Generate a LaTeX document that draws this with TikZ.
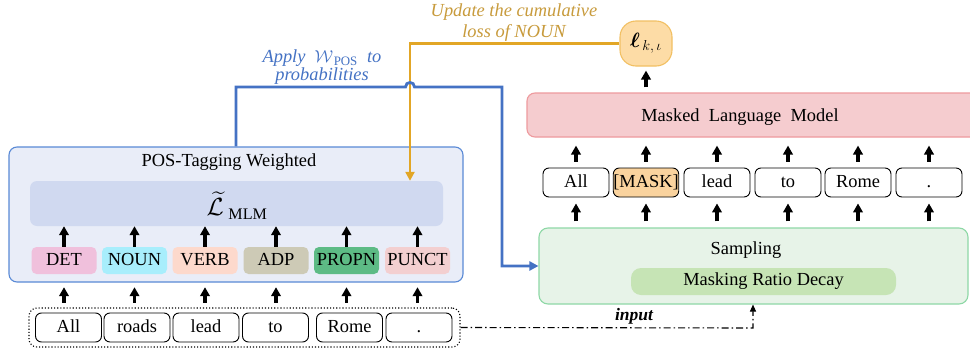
\documentclass[tikz,border=0pt]{standalone}
\usepackage{amsmath,amssymb}
\usepackage{fontspec}
\setmainfont{Liberation Serif}
\usetikzlibrary{arrows.meta,calc}
\definecolor{posfill}{HTML}{E9EDF8}
\definecolor{posdraw}{HTML}{5A8AD6}
\definecolor{lfill}{HTML}{D0D9F0}
\definecolor{cdet}{HTML}{F0C0DC}
\definecolor{cnoun}{HTML}{A8EEFC}
\definecolor{cverb}{HTML}{FDD9CC}
\definecolor{cadp}{HTML}{CDCAB6}
\definecolor{cpropn}{HTML}{5DBB85}
\definecolor{cpunct}{HTML}{F3CFD0}
\definecolor{blueln}{HTML}{4472C4}
\definecolor{orangeln}{HTML}{E2A626}
\definecolor{orangetxt}{HTML}{C89B3C}
\definecolor{mlmfill}{HTML}{F5CCCF}
\definecolor{mlmdraw}{HTML}{EE9A9E}
\definecolor{maskfill}{HTML}{FAD39E}
\definecolor{ellfill}{HTML}{FDDCA6}
\definecolor{elldraw}{HTML}{F2C063}
\definecolor{sampfill}{HTML}{E7F3E8}
\definecolor{sampdraw}{HTML}{8ED8A6}
\definecolor{mrdfill}{HTML}{C6E4B5}
\begin{document}
\begin{tikzpicture}[x=1pt,y=-1pt,
  font=\fontsize{18.4}{21}\selectfont,
  tokbox/.style={draw=black, line width=0.9pt, rounded corners=6pt, minimum width=66pt, minimum height=29pt, inner sep=0pt, text height=12.5pt, text depth=3.5pt},
  tagbox/.style={rounded corners=5pt, minimum width=65pt, minimum height=27pt, inner sep=0pt, text height=12.5pt, text depth=3.5pt},
  uparrow/.style={line width=3.5pt, -{Triangle[width=9.5pt,length=9pt]}},
  blueline/.style={draw=blueln, line width=2.8pt},
  orangeline/.style={draw=orangeln, line width=2.6pt}
]
\clip (0,0) rectangle (970,351);
\fill[white] (0,0) rectangle (970,351);

% ---------- left block ----------
\node[draw=posdraw, fill=posfill, line width=1.1pt, rounded corners=8pt, minimum width=454pt, minimum height=135pt] (pos) at (236,214.5) {};
\node (postitle) at (229,162) {POS-Tagging Weighted};
\node[fill=lfill, rounded corners=7pt, minimum width=413pt, minimum height=45pt, inner sep=0pt] (lmlm) at (236.5,203.5) {};
\node[font=\fontsize{23}{26}\selectfont] (lmlmtext) at (237,206) {$\widetilde{\mathcal{L}}_{\;\mathrm{MLM}}$};

\node[tagbox, fill=cdet]   (det)   at (64,260.5)   {DET};
\node[tagbox, fill=cnoun]  (noun)  at (134.5,260.5) {NOUN};
\node[tagbox, fill=cverb]  (verb)  at (205,260.5)  {VERB};
\node[tagbox, fill=cadp]   (adp)   at (276,260.5)  {ADP};
\node[tagbox, fill=cpropn] (propn) at (346.5,260.5) {PROPN};
\node[tagbox, fill=cpunct] (punct) at (417.5,260.5) {PUNCT};

\node[draw=black, dotted, line width=1.1pt, rounded corners=8pt, minimum width=431pt, minimum height=39pt] (toks) at (244.5,327.5) {};
\node[tokbox] (lt1) at (68.5,327.5) {All};
\node[tokbox] (lt2) at (137,327.5) {roads};
\node[tokbox] (lt3) at (206,327.5) {lead};
\node[tokbox] (lt4) at (275.5,327.5) {to};
\node[tokbox] (lt5) at (349.5,327.5) {Rome};
\node[tokbox] (lt6) at (419,327.5) {.};

\foreach \t/\g in {lt1/det,lt2/noun,lt3/verb,lt4/adp,lt5/propn,lt6/punct}{
  \draw[uparrow, shorten <=10pt, shorten >=13pt] (\g.south |- \t.north) -- (\g.south);
  \draw[uparrow] (\g.north) -- (\g.north |- lmlm.south);
}

% ---------- right block ----------
\node[draw=mlmdraw, fill=mlmfill, line width=1.1pt, rounded corners=8pt, minimum width=480pt, minimum height=44pt] (mlm) at (767,115) {};
\node (mlmtext) at (740,117) {Masked\ \ Language\ \ Model};

\node[tokbox] (rt1) at (576,182.5) {All};
\node[tokbox, fill=maskfill, minimum width=64pt] (rt2) at (646,182.5) {[MASK]};
\node[tokbox] (rt3) at (717,182.5) {lead};
\node[tokbox] (rt4) at (788,182.5) {to};
\node[tokbox] (rt5) at (858,182.5) {Rome};
\node[tokbox] (rt6) at (929,182.5) {.};

\node[draw=sampdraw, fill=sampfill, line width=1.1pt, rounded corners=9pt, minimum width=429pt, minimum height=76pt] (samp) at (753.5,266) {};
\node (samptitle) at (746,250) {Sampling};
\node[fill=mrdfill, rounded corners=10pt, minimum width=265pt, minimum height=27pt, inner sep=0pt] (mrd) at (763.5,281.5) {Masking Ratio Decay};

\foreach \t in {rt1,rt2,rt3,rt4,rt5,rt6}{
  \draw[uparrow, shorten <=6pt, shorten >=8pt] (\t.north) -- (\t.north |- mlm.south);
  \draw[uparrow, shorten <=6pt, shorten >=6pt] (\t.south |- samp.north) -- (\t.south);
}

\node[draw=elldraw, fill=ellfill, line width=1.1pt, rounded corners=16pt, minimum width=52pt, minimum height=45pt, font=\fontsize{22}{24}\selectfont] (ell) at (646,43.5) {$\boldsymbol{\ell}_{\,k,\,\iota}$};
\draw[uparrow, shorten <=5pt, shorten >=4pt] (ell.south |- mlm.north) -- (ell.south);

% ---------- connectors ----------
\coordinate (ocorner) at (410,43.5);
\draw[orangeline, -{Triangle[width=9pt,length=9pt]}] (ell.west) -- (ocorner) -- (ocorner |- lmlm.north);

\coordinate (b1) at (236,87);
\coordinate (b2) at (502,87);
\draw[blueline, -{Triangle[width=9pt,length=9pt]}] (pos.north) -- (b1) -- (405.5,87) .. controls (405.5,81) and (414.5,81) .. (414.5,87) -- (b2) -- (b2 |- samp.west) -- (samp.west);

\coordinate (inpc) at (753,328);
\draw[line width=1.1pt, dash pattern=on 7pt off 3pt on 1.5pt off 3pt, -{Triangle[width=6pt,length=7pt]}] (toks.east) -- (inpc) -- (inpc |- samp.south);
\node[font=\fontsize{17.5}{20}\selectfont\bfseries\itshape] (inputlbl) at (634,316) {input};

% ---------- labels ----------
\node[align=center, text=orangetxt, font=\fontsize{18.4}{21}\selectfont\itshape] (updlbl) at (514,23) {Update the cumulative\\loss of NOUN};
\node[align=center, text=blueln, font=\fontsize{18.4}{16}\selectfont\itshape] (applylbl) at (322,67) {Apply\ \ $\mathcal{W}_{\,\mathrm{POS}}$\ \ to\\probabilities};
\end{tikzpicture}
\end{document}
